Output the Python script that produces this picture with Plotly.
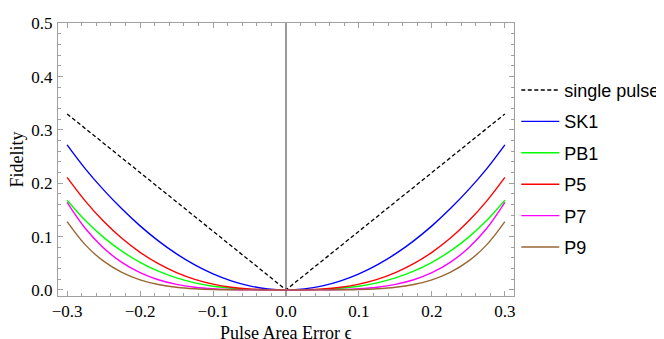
import plotly.graph_objects as go

# pulse area error (positive half; curves are symmetric in epsilon)
EPS = [0.0, 0.025, 0.05, 0.075, 0.1, 0.125, 0.15, 0.175, 0.2, 0.225, 0.25, 0.275, 0.3]

single_eps = [0.0, 0.1, 0.2, 0.3]
single_pulse = [0.0, 0.11, 0.22, 0.33]

sk1 = [0.0, 0.0019, 0.0075, 0.0169, 0.030, 0.0469, 0.0675, 0.0919, 0.120, 0.152, 0.1875, 0.227, 0.272]
pb1 = [0.0, 0.0001, 0.0009, 0.0030, 0.0069, 0.0132, 0.0224, 0.0350, 0.0516, 0.0726, 0.0985, 0.1299, 0.168]
p5 = [0.0, 0.0003, 0.0017, 0.0050, 0.0108, 0.0198, 0.0324, 0.0491, 0.0704, 0.0967, 0.1286, 0.1665, 0.211]
p7 = [0.0, 0.0000, 0.0001, 0.0006, 0.0020, 0.0049, 0.0102, 0.0189, 0.0322, 0.0515, 0.0785, 0.1150, 0.164]
p9 = [0.0, 0.0000, 0.0000, 0.0002, 0.0007, 0.0021, 0.0049, 0.0101, 0.0189, 0.0328, 0.0538, 0.0844, 0.128]

colors = {"SK1": "#0000ff", "PB1": "#00ff00", "P5": "#ff0000", "P7": "#ff00ff", "P9": "#996633"}
SERIF = "Liberation Serif, Times New Roman, serif"
SANS = "Liberation Sans, Arial, sans-serif"
FRAME = "#a0a0a0"


def mirror(xs, ys):
    """Both halves of a symmetric curve from its positive half."""
    x = [-v for v in reversed(xs[1:])] + list(xs)
    y = list(reversed(ys[1:])) + list(ys)
    return x, y


fig = go.Figure()

x, y = mirror(single_eps, single_pulse)
fig.add_trace(go.Scatter(x=x, y=y, mode="lines", name="single pulse", legendgroup="a",
                         line=dict(color="black", width=1.3, dash="4px,2.5px")))

for i, (name, vals) in enumerate([("SK1", sk1), ("PB1", pb1), ("P5", p5), ("P7", p7), ("P9", p9)]):
    x, y = mirror(EPS, vals)
    fig.add_trace(go.Scatter(x=x, y=y, mode="lines", name=name, legendgroup=str(i),
                             line=dict(color=colors[name], width=1.4, shape="spline", smoothing=1.0)))

axis_common = dict(showline=True, linecolor=FRAME, linewidth=1, mirror="ticks",
                   ticks="inside", ticklen=5, tickcolor=FRAME, tickwidth=1,
                   showgrid=False, ticklabeloverflow="allow",
                   tickfont=dict(family=SERIF, size=17, color="black"),
                   minor=dict(ticks="inside", ticklen=3, tickcolor=FRAME, dtick=0.02, showgrid=False))

fig.update_xaxes(range=[-0.3125, 0.3125], dtick=0.1, tickformat=".1f",
                 zeroline=True, zerolinecolor="#999999", zerolinewidth=1.6,
                 **axis_common)
fig.update_yaxes(range=[-0.0115, 0.5005], dtick=0.1, tickformat=".1f", zeroline=False,
                 ticklabelstandoff=1, **axis_common)

# axis titles as annotations so they sit close to the page edges
fig.add_annotation(text="Fidelity", xref="paper", yref="paper", x=-0.092, y=0.5,
                   xanchor="center", yanchor="middle", textangle=-90, showarrow=False,
                   font=dict(family=SERIF, size=18, color="black"))
fig.add_annotation(text="Pulse Area Error ϵ", xref="paper", yref="paper", x=0.5, y=-0.135,
                   xanchor="center", yanchor="middle", showarrow=False,
                   font=dict(family=SERIF, size=18, color="black"))

fig.update_layout(width=664, height=339,
                  margin=dict(l=50, r=158, t=6, b=51),
                  paper_bgcolor="white", plot_bgcolor="white",
                  legend=dict(x=1.005, xanchor="left", y=0.466, yanchor="middle",
                              font=dict(family=SANS, size=18, color="black"),
                              tracegroupgap=5, itemwidth=38, bgcolor="rgba(0,0,0,0)"),
                  showlegend=True)

fig.write_html("out.html")
